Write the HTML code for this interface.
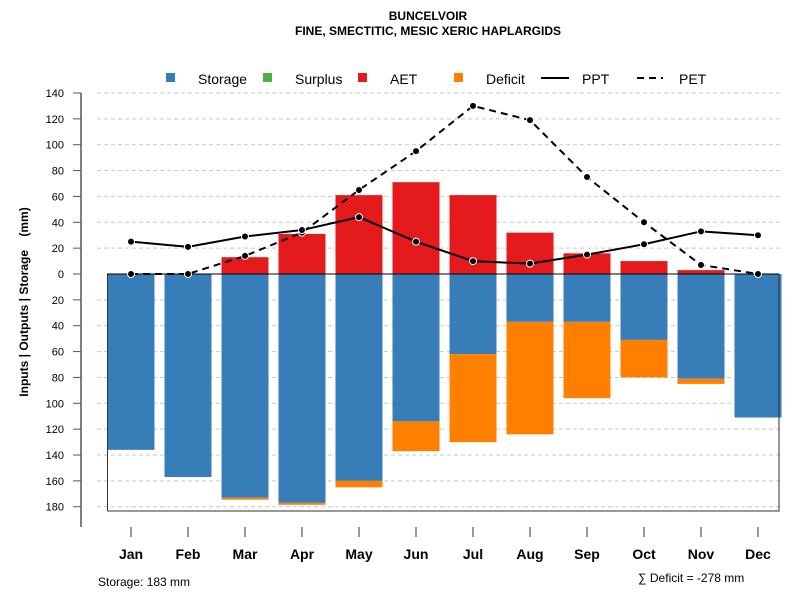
<!DOCTYPE html>
<html><head><meta charset="utf-8"><style>
body{margin:0;background:#fff}
svg text{font-family:"Liberation Sans",sans-serif}
</style></head><body>
<svg id="c" width="800" height="600" xmlns="http://www.w3.org/2000/svg">
<text x="428" y="20" text-anchor="middle" font-size="12" font-weight="bold">BUNCELVOIR</text>
<text x="428" y="35" text-anchor="middle" font-size="12" font-weight="bold">FINE, SMECTITIC, MESIC XERIC HAPLARGIDS</text>
<g id="grid"></g>
<g id="bars"></g>
<g id="axes"></g>
<g id="lines"></g>
<g font-size="14">
<rect x="166" y="73" width="9" height="9" fill="#377eb8"/>
<text x="198" y="84">Storage</text>
<rect x="263" y="73" width="9" height="9" fill="#4daf4a"/>
<text x="295" y="84">Surplus</text>
<rect x="358" y="73" width="9" height="9" fill="#e41a1c"/>
<text x="390" y="84">AET</text>
<rect x="454" y="73" width="9" height="9" fill="#ff7f00"/>
<text x="486" y="84">Deficit</text>
<line x1="541" y1="78" x2="569" y2="78" stroke="#000" stroke-width="2"/>
<text x="582" y="84">PPT</text>
<line x1="637" y1="78" x2="663" y2="78" stroke="#000" stroke-width="2" stroke-dasharray="7,5"/>
<text x="679" y="84">PET</text>
</g>
<text transform="translate(28,302) rotate(-90)" text-anchor="middle" font-size="12" font-weight="bold" style="white-space:pre" xml:space="preserve">Inputs | Outputs | Storage    (mm)</text>
<text x="98" y="586" font-size="12">Storage: 183 mm</text>
<text x="638" y="582" font-size="12">∑ Deficit = -278 mm</text>
</svg>
<script>
const months=["Jan","Feb","Mar","Apr","May","Jun","Jul","Aug","Sep","Oct","Nov","Dec"];
const storage=[136,157,173,177,160,114,62,37,37,51,81,111];
const deficit=[0,0,1.5,1.5,5,23,68,87,59,29,4,0];
const aet=[0,0,13,31,61,71,61,32,16,10,3,0];
const ppt=[25,21,29,34,44,25,10,8,15,23,33,30];
const pet=[0,0,14,32,65,95,130,119,75,40,7,0];
const yTicks=[140,120,100,80,60,40,20,0,-20,-40,-60,-80,-100,-120,-140,-160,-180];
const NS="http://www.w3.org/2000/svg";
const y=v=>274-v*1.293;
const x=i=>131+i*57;
function mk(p,t,a){const e=document.createElementNS(NS,t);for(const k in a)e.setAttribute(k,a[k]);document.getElementById(p).appendChild(e);return e;}
yTicks.forEach(t=>{
 if(t!==0){const g=mk('grid','line',{x1:97,x2:780,y1:y(t),y2:y(t),stroke:'#c8c8c8','stroke-dasharray':'4,3'});
 
 }
 const tk=mk('axes','line',{x1:73,x2:81,y1:y(t),y2:y(t),stroke:'#555'});
 
 
 const l=mk('axes','text',{x:64,y:y(t)+4,'text-anchor':'end','font-size':11});
 l.textContent=Math.abs(t);
 
 
});
const ax=mk('axes','line',{x1:81,x2:81,y1:y(140),y2:527,stroke:'#555','stroke-width':1.5});


const bx=mk('axes','path',{d:`M107.5 274 V511 H779 V274`,fill:'none',stroke:'#333'});


months.forEach((m,i)=>{
 const w=47,x0=x(i)-w/2;
 const s=mk('bars','rect',{x:x0,y:y(0),width:w,height:storage[i]*1.293,fill:'#377eb8'});
 
 
 if(deficit[i]>0){const d=mk('bars','rect',{x:x0,y:y(-storage[i]),width:w,height:deficit[i]*1.293,fill:'#ff7f00'});
 
 }
 if(aet[i]>0){const a=mk('bars','rect',{x:x0,y:y(aet[i]),width:w,height:aet[i]*1.293,fill:'#e41a1c'});
 
 }
 const t=mk('axes','line',{x1:x(i),x2:x(i),y1:527,y2:537,stroke:'#333'});
 
 
 const l=mk('axes','text',{x:x(i),y:559,'text-anchor':'middle','font-size':14,'font-weight':'bold'});
 l.textContent=m;
 
 
});
const z=mk('lines','line',{x1:107,x2:779,y1:274,y2:274,stroke:'#000'});


function series(vals,name,dash){
 const p=mk('lines','polyline',{points:vals.map((v,i)=>x(i)+','+y(v)).join(' '),fill:'none',stroke:'#000','stroke-width':2,'stroke-dasharray':dash});
 
 
 vals.forEach((v,i)=>{const c=mk('lines','circle',{cx:x(i),cy:y(v),r:3.5,fill:'#000',stroke:'#fff','stroke-width':1});
 
 });
}
series(pet,'pet','7,5');
series(ppt,'ppt','none');
</script>
</body></html>
